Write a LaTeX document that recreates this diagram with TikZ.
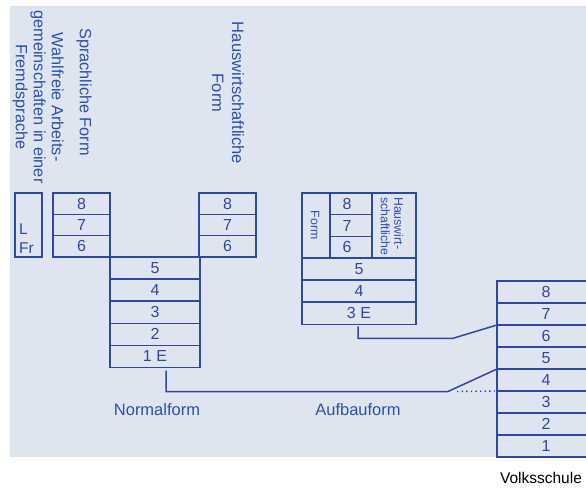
\documentclass[tikz,border=0pt]{standalone}
\usepackage{fontspec}
\setmainfont{Liberation Sans}
\definecolor{ink}{RGB}{45,72,158}
\definecolor{labelblue}{RGB}{42,80,172}
\definecolor{paper}{RGB}{223,229,240}

\begin{document}
\begin{tikzpicture}[x=1pt, y=-1pt,
  cell/.style={draw=ink, line width=1.5pt, inner sep=0pt, outer sep=0pt,
    anchor=north west, text=ink, font=\fontsize{16}{16}\selectfont},
  conn/.style={draw=ink, line width=1.5pt},
  vlabel/.style={text=labelblue, rotate=-90, inner sep=0pt,
    font=\fontsize{16.3}{18}\selectfont},
  smalllabel/.style={text=labelblue, rotate=-90, inner sep=0pt,
    font=\fontsize{12.3}{13.5}\selectfont},
  caption/.style={text=labelblue, inner sep=0pt, font=\fontsize{16.5}{18}\selectfont}]

\useasboundingbox (0,0) rectangle (586,487);
\fill[white] (0,0) rectangle (586,487);
\fill[paper] (10,6) rectangle (586,457);

\begin{scope}
\clip (0,0) rectangle (586,487);

% column headings
\node[vlabel, anchor=west] (hsprach) at (84,28) {Sprachliche Form};
\node[vlabel, align=center] (hwahl) at (38,97)
  {Wahlfreie Arbeits-\\gemeinschaften in einer\\Fremdsprache};
\node[vlabel, align=center, font=\fontsize{16.5}{20}\selectfont] (hhaus) at (228,93) {Hauswirtschaftliche\\Form};

% foreign language box
\node[cell, minimum width=27, minimum height=64] (lfr) at (15,193) {};
\node[text=ink, anchor=west, inner sep=0pt, font=\fontsize{15.5}{15}\selectfont] (lL) at (19,229) {L};
\node[text=ink, anchor=west, inner sep=0pt, font=\fontsize{15.5}{15}\selectfont] (lFr) at (19,248) {Fr};

% language branch, grades 8-6
\node[cell, minimum width=57, minimum height=21.3] (s8) at (53,193) {8};
\node[cell, minimum width=57, minimum height=21.3] (s7) at (53,214.3) {7};
\node[cell, minimum width=57, minimum height=21.4] (s6) at (53,235.6) {6};

% home economics branch, grades 8-6
\node[cell, minimum width=57, minimum height=21.3] (h8) at (199,193) {8};
\node[cell, minimum width=57, minimum height=21.3] (h7) at (199,214.3) {7};
\node[cell, minimum width=57, minimum height=21.4] (h6) at (199,235.6) {6};

% normal form, grades 5-1
\node[cell, minimum width=90, minimum height=22.1] (n5) at (110,257) {5};
\node[cell, minimum width=90, minimum height=22.1] (n4) at (110,279.1) {4};
\node[cell, minimum width=90, minimum height=22.1] (n3) at (110,301.2) {3};
\node[cell, minimum width=90, minimum height=22.1] (n2) at (110,323.3) {2};
\node[cell, minimum width=90, minimum height=22.1] (n1) at (110,345.4) {1 E};

% extended form
\node[cell, minimum width=114, minimum height=65] (atop) at (302,193) {};
\node[cell, minimum width=42, minimum height=21.7] (a8) at (330,193) {\hfill8\hspace*{8pt}};
\node[cell, minimum width=42, minimum height=21.6] (a7) at (330,214.7) {\hfill7\hspace*{8pt}};
\node[cell, minimum width=42, minimum height=21.7] (a6) at (330,236.3) {\hfill6\hspace*{8pt}};
\node[smalllabel] (aform) at (315,225) {Form};
\node[smalllabel, anchor=west, align=left] (ahaus) at (392,197) {Hauswirt-\\schaftliche};
\node[cell, minimum width=114, minimum height=22] (a5) at (302,258) {5};
\node[cell, minimum width=114, minimum height=22.1] (a4) at (302,280) {4};
\node[cell, minimum width=114, minimum height=22.2] (a3) at (302,302.1) {3 E};

% primary school, grades 8-1
\node[cell, minimum width=98, minimum height=22] (v8) at (497,281) {8};
\node[cell, minimum width=98, minimum height=22] (v7) at (497,303) {7};
\node[cell, minimum width=98, minimum height=22] (v6) at (497,325) {6};
\node[cell, minimum width=98, minimum height=22] (v5) at (497,347) {5};
\node[cell, minimum width=98, minimum height=22] (v4) at (497,369) {4};
\node[cell, minimum width=98, minimum height=22] (v3) at (497,391) {3};
\node[cell, minimum width=98, minimum height=22] (v2) at (497,413) {2};
\node[cell, minimum width=98, minimum height=22] (v1) at (497,435) {1};
\end{scope}

% transitions from the primary school
\coordinate (nbend) at (448,391.5);
\coordinate (abend) at (453,338.3);
\coordinate (dotstart) at (457,391.5);
\draw[conn] ([xshift=11pt,yshift=-3pt]n1.south) |- (nbend) -- (v4.north west);
\draw[conn] ([xshift=-1pt,yshift=-2pt]a3.south) |- (abend) -- (v6.north west);
\draw[ink, line width=1.4pt, dash pattern=on 1.4pt off 3.2pt] (dotstart) -- (v3.north west);

% captions
\node[caption] (cnorm) at (157,410) {Normalform};
\node[caption] (caufb) at (358,410) {Aufbauform};
\node[inner sep=0pt, font=\fontsize{15.5}{17}\selectfont] (cvolk) at (541,478) {Volksschule};
\end{tikzpicture}
\end{document}
